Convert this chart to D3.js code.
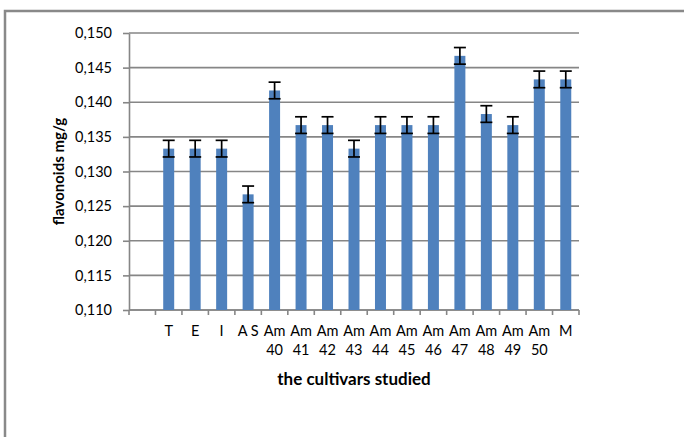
<!DOCTYPE html>
<html>
<head>
<meta charset="utf-8">
<script src="https://cdn.jsdelivr.net/npm/d3@7"></script>
<style>
  html, body { margin: 0; padding: 0; background: #ffffff; }
  svg { display: block; }
  text { font-family: Lato, "Open Sans", sans-serif; fill: #000; }
</style>
</head>
<body>
<svg id="chart" width="684" height="437"></svg>
<script>
// ---- data ----
const categories = ["", "T", "E", "I", "A S", "Am 40", "Am 41", "Am 42", "Am 43", "Am 44", "Am 45", "Am 46", "Am 47", "Am 48", "Am 49", "Am 50", "M"];
const values = [null, 0.1333, 0.1333, 0.1333, 0.1267, 0.1417, 0.1367, 0.1367, 0.1333, 0.1367, 0.1367, 0.1367, 0.1467, 0.1383, 0.1367, 0.1433, 0.1433];
const errors = [null, 0.0012, 0.0012, 0.0012, 0.0012, 0.0012, 0.0012, 0.0012, 0.0012, 0.0012, 0.0012, 0.0012, 0.0012, 0.0012, 0.0012, 0.0012, 0.0012];
const yTicks = [0.110, 0.115, 0.120, 0.125, 0.130, 0.135, 0.140, 0.145, 0.150];
const yTitle = "flavonoids mg/g";
const xTitle = "the cultivars studied";

const svg = d3.select("#chart");
const W = 684, H = 437;
const plot = { left: 129, right: 579, top: 33, bottom: 310 };
const gridColor = "#868686";
const barColor = "#4f81bd";

svg.append("rect").attr("width", W).attr("height", H).attr("fill", "#fff");
// outer frame (extends beyond visible area right & bottom)
svg.append("rect")
  .attr("x", 5).attr("y", 11).attr("width", 720).attr("height", 460)
  .attr("fill", "none").attr("stroke", "#898989").attr("stroke-width", 2.5);

const y = d3.scaleLinear().domain([0.110, 0.150]).range([plot.bottom, plot.top]);
const pad = 0.585;
const x = d3.scaleBand().domain(categories).range([plot.left, plot.right])
  .paddingInner(pad).paddingOuter(pad / 2);

const fmt = v => d3.format(".3f")(v).replace(".", ",");

// gridlines
svg.append("g").selectAll("line").data(yTicks).join("line")
  .attr("x1", plot.left).attr("x2", plot.right)
  .attr("y1", d => y(d)).attr("y2", d => y(d))
  .attr("stroke", gridColor).attr("stroke-width", 1.6);

// y axis
const yAxis = svg.append("g").attr("transform", `translate(${plot.left},0)`)
  .call(d3.axisLeft(y).tickValues(yTicks).tickFormat(fmt).tickSizeInner(6).tickSizeOuter(0).tickPadding(11));
yAxis.select(".domain").attr("stroke", gridColor).attr("stroke-width", 1.6);
yAxis.selectAll(".tick line").attr("stroke", gridColor).attr("stroke-width", 1.6);
yAxis.selectAll(".tick text").attr("font-size", 14.5).attr("font-family", "Lato").attr("fill", "#000");

// x axis ticks at band boundaries
const step = x.step();
const boundaries = d3.range(categories.length + 1).map(i => plot.left + i * step);
svg.append("g").selectAll("line").data(boundaries).join("line")
  .attr("x1", d => d).attr("x2", d => d)
  .attr("y1", plot.bottom).attr("y2", plot.bottom + 5)
  .attr("stroke", gridColor).attr("stroke-width", 1.6);
svg.append("line")
  .attr("x1", plot.left).attr("x2", plot.right)
  .attr("y1", plot.bottom).attr("y2", plot.bottom)
  .attr("stroke", gridColor).attr("stroke-width", 1.6);

// x labels
const xl = svg.append("g").selectAll("text").data(categories).join("text")
  .attr("x", d => x(d) + x.bandwidth() / 2)
  .attr("y", 336)
  .attr("text-anchor", "middle")
  .attr("font-size", 14.5);
xl.each(function(d) {
  const parts = d.startsWith("Am ") ? ["Am", d.slice(3)] : [d];
  const t = d3.select(this);
  parts.forEach((p, i) => {
    t.append("tspan").attr("x", x(d) + x.bandwidth() / 2).attr("dy", i === 0 ? 0 : 19).text(p);
  });
});

// bars
const data = categories.map((c, i) => ({ c, v: values[i], e: errors[i] })).filter(d => d.v != null);
svg.append("g").selectAll("rect").data(data).join("rect")
  .attr("x", d => x(d.c)).attr("width", x.bandwidth())
  .attr("y", d => y(d.v)).attr("height", d => y(0.110) - y(d.v))
  .attr("fill", barColor);

// error bars
const eb = svg.append("g").attr("stroke", "#000").attr("stroke-width", 1.7);
data.forEach(d => {
  const cx = x(d.c) + x.bandwidth() / 2;
  const cap = 6;
  eb.append("line").attr("x1", cx).attr("x2", cx).attr("y1", y(d.v + d.e)).attr("y2", y(d.v - d.e));
  eb.append("line").attr("x1", cx - cap).attr("x2", cx + cap).attr("y1", y(d.v + d.e)).attr("y2", y(d.v + d.e));
  eb.append("line").attr("x1", cx - cap).attr("x2", cx + cap).attr("y1", y(d.v - d.e)).attr("y2", y(d.v - d.e));
});

// titles
svg.append("text")
  .attr("x", (plot.left + plot.right) / 2).attr("y", 385)
  .attr("text-anchor", "middle").attr("font-weight", "bold").attr("font-size", 17)
  .text(xTitle);
svg.append("text")
  .attr("transform", `translate(64,${(plot.top + plot.bottom) / 2}) rotate(-90)`)
  .attr("text-anchor", "middle").attr("font-weight", "bold").attr("font-size", 15)
  .text(yTitle);
</script>
</body>
</html>
